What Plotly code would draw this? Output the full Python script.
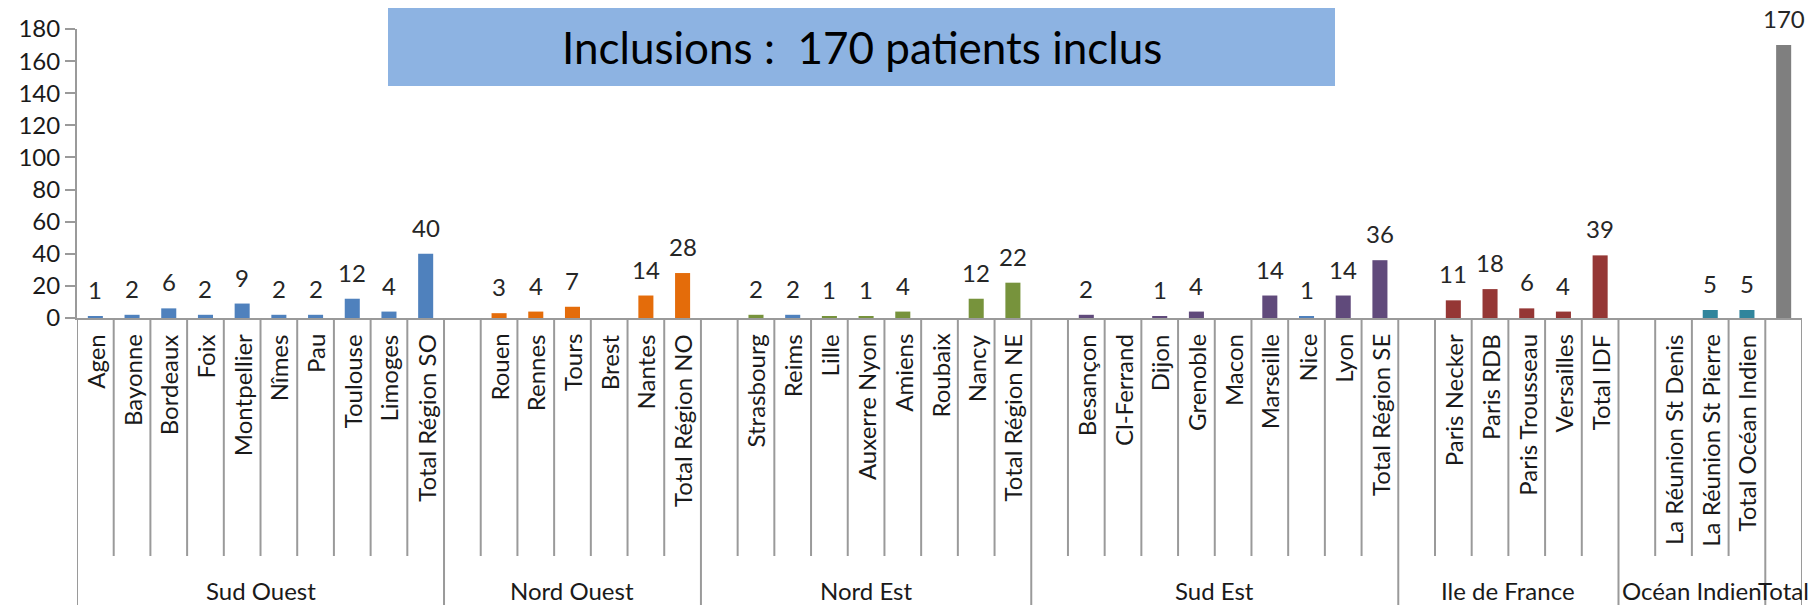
import plotly.graph_objects as go

# ---------------- data ----------------
groups = ["Sud Ouest", "Nord Ouest", "Nord Est", "Sud Est", "Ile de France", "Océan Indien", "Total"]

so_cats = ["Agen", "Bayonne", "Bordeaux", "Foix", "Montpellier", "Nîmes", "Pau", "Toulouse", "Limoges", "Total Région SO"]
so_vals = [1, 2, 6, 2, 9, 2, 2, 12, 4, 40]

no_cats = ["", "Rouen", "Rennes", "Tours", "Brest", "Nantes", "Total Région NO"]
no_vals = [None, 3, 4, 7, None, 14, 28]

ne_cats = ["", "Strasbourg", "Reims", "Lille", "Auxerre Nyon", "Amiens", "Roubaix", "Nancy", "Total Région NE"]
ne_vals = [None, 2, 2, 1, 1, 4, None, 12, 22]

se_cats = ["", "Besançon", "Cl-Ferrand", "Dijon", "Grenoble", "Macon", "Marseille", "Nice", "Lyon", "Total Région SE"]
se_vals = [None, 2, None, 1, 4, None, 14, 1, 14, 36]

idf_cats = ["", "Paris Necker", "Paris RDB", "Paris Trousseau", "Versailles", "Total IDF"]
idf_vals = [None, 11, 18, 6, 4, 39]

oi_cats = ["", "La Réunion St Denis", "La Réunion St Pierre", "Total Océan Indien"]
oi_vals = [None, None, 5, 5]

tot_cats = [""]
tot_vals = [170]

title_text = "Inclusions :\u00a0 170 patients inclus"

# ---------------- styles ----------------
group_colors = ["#4F81BD", "#E46C0A", "#77933C", "#604A7B", "#953735", "#31859C", "#7F7F7F"]
color_override = {"Reims": "#4F81BD", "Nice": "#4F81BD"}
FONT = "Lato, Calibri, Carlito, sans-serif"
GRAY = "#9A9A9A"
W, H = 1808, 605
ML, MR, MT, MB = 77, 6, 29, 287
PW, PH = W - ML - MR, H - MT - MB

all_cats = [so_cats, no_cats, ne_cats, se_cats, idf_cats, oi_cats, tot_cats]
all_vals = [so_vals, no_vals, ne_vals, se_vals, idf_vals, oi_vals, tot_vals]

ids, labels, vals, cols, grp_of = [], [], [], [], []
for g, cats, vs, c in zip(groups, all_cats, all_vals, group_colors):
    for cat, v in zip(cats, vs):
        ids.append(f"{g}|{cat}")
        labels.append(cat)
        vals.append(v)
        cols.append(color_override.get(cat, c))
        grp_of.append(g)

n = len(ids)

fig = go.Figure()
fig.add_trace(go.Bar(x=ids, y=vals, marker=dict(color=cols, line=dict(width=0)),
                     hoverinfo="x+y", showlegend=False))

ann = []
shapes = []

# data labels
for i, v in zip(ids, vals):
    if v is None:
        continue
    ann.append(dict(x=i, y=v, xref="x", yref="y", text=str(v), showarrow=False,
                    yanchor="bottom", xanchor="center", yshift=10,
                    font=dict(family=FONT, size=24, color="#262626")))

# category labels (rotated)
for i, lab in zip(ids, labels):
    if not lab:
        continue
    ann.append(dict(x=i, y=0, xref="x", yref="paper", text=lab, showarrow=False,
                    textangle=-90, yanchor="top", xanchor="center", yshift=-14,
                    font=dict(family=FONT, size=24, color="#1a1a1a")))

# group labels and separators
short_y = -(556 - (MT + PH)) / PH
long_y = -(H - (MT + PH)) / PH
start = 0
boundaries = {0}
for g, cats in zip(groups, all_cats):
    end = start + len(cats)
    boundaries.add(end)
    ann.append(dict(x=(start + end - 1) / 2, y=-(590 - (MT + PH)) / PH, xref="x", yref="paper",
                    text=g, showarrow=False, yanchor="middle", xanchor="center",
                    font=dict(family=FONT, size=24, color="#1a1a1a")))
    start = end

for b in range(n + 1):
    y1 = long_y if b in boundaries else short_y
    shapes.append(dict(type="line", xref="x", yref="paper", x0=b - 0.5, x1=b - 0.5,
                       y0=0, y1=y1, line=dict(color=GRAY, width=2)))

# title box
bx0, bx1, by0, by1 = 388, 1335, 8, 86
px = lambda x: (x - ML) / PW
py = lambda y: (MT + PH - y) / PH
shapes.append(dict(type="rect", xref="paper", yref="paper", x0=px(bx0), x1=px(bx1),
                   y0=py(by1), y1=py(by0), fillcolor="#8DB3E2", line=dict(width=0), layer="above"))
ann.append(dict(x=(px(bx0) + px(bx1)) / 2, y=(py(by0) + py(by1)) / 2, xref="paper", yref="paper",
                text=title_text, showarrow=False, xanchor="center", yanchor="middle",
                font=dict(family=FONT, size=44, color="#000000")))

fig.update_layout(
    width=W, height=H,
    margin=dict(l=ML, r=MR, t=MT, b=MB, pad=0),
    paper_bgcolor="white", plot_bgcolor="white",
    bargap=0.59,
    annotations=ann, shapes=shapes,
    xaxis=dict(type="category", categoryorder="array", categoryarray=ids,
               range=[-0.5, n - 0.5], showticklabels=False, ticks="",
               showline=True, linecolor=GRAY, linewidth=2, showgrid=False, zeroline=False),
    yaxis=dict(range=[0, 180], dtick=20, tick0=0, ticks="outside", ticklen=10, tickwidth=2,
               tickcolor=GRAY, showline=True, linecolor=GRAY, linewidth=2, showgrid=False,
               zeroline=False, tickfont=dict(family=FONT, size=24, color="#1a1a1a")),
)

fig.write_html("out.html", config={"displayModeBar": False},
               post_script="document.body.style.margin='0';document.body.style.overflow='hidden';")
